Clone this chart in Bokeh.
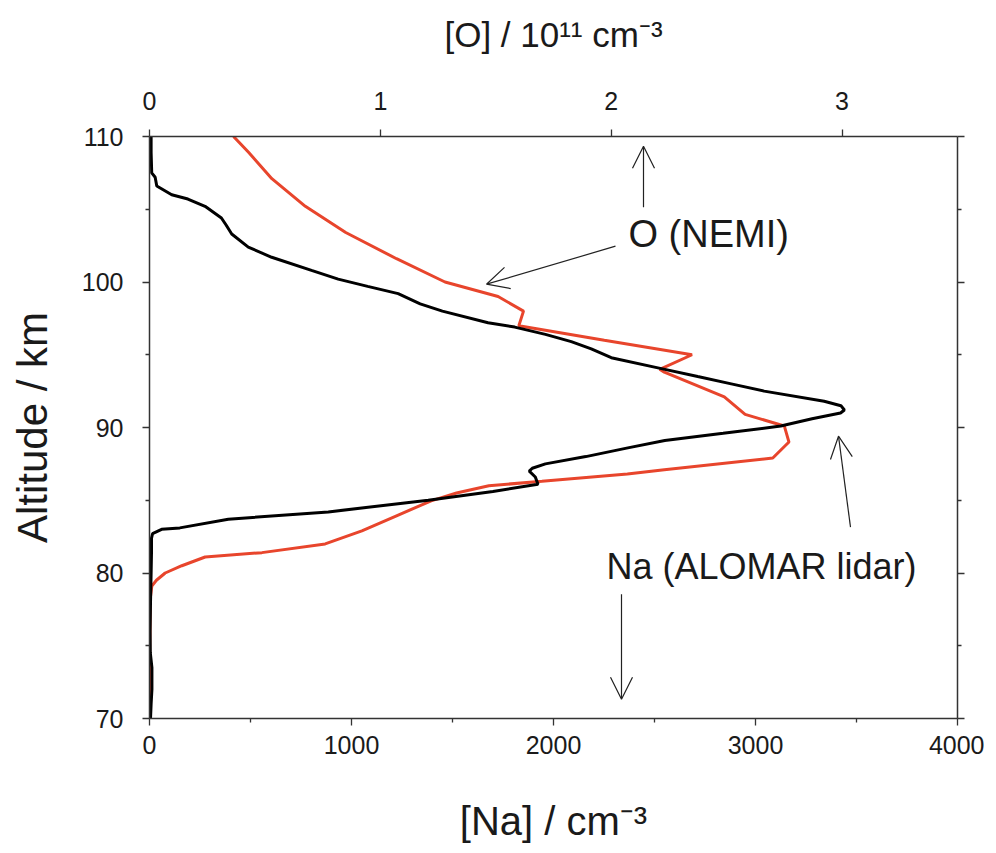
import numpy as np
from bokeh.plotting import figure
from bokeh.models import (Range1d, LinearAxis, FixedTicker, Label, Arrow, OpenHead,
                          CustomJSTickFormatter)
from bokeh.embed import file_html
from bokeh.resources import INLINE

# ---------------- data ----------------
# Na density profile (ALOMAR lidar), cm^-3, vs altitude (km)
na_alt = [70.0, 71.0, 72.0, 73.5, 74.5, 76.0, 78.0, 80.0, 81.5, 82.4, 82.7, 83.0, 83.1,
          83.7, 84.2, 85.0, 85.6, 86.1, 86.6, 87.0, 87.2, 87.5, 88.0, 88.6, 89.1, 89.6,
          90.1, 90.6, 91.0, 91.2, 91.5, 91.8, 92.5, 93.0, 93.5, 94.1, 94.8, 95.4, 95.9,
          96.4, 96.9, 97.2, 98.0, 98.5, 99.2, 99.7, 100.2, 100.8, 101.7, 102.4, 103.3,
          103.9, 104.4, 105.2, 105.7, 106.0, 106.6, 107.2, 107.5, 108.9, 110.0]
na_val = [5, 8, 12, 12, 4, 3, 5, 8, 10, 10, 15, 60, 150,
          390, 885, 1380, 1700, 1923, 1910, 1880, 1895, 1960, 2160, 2368, 2551, 2840,
          3125, 3280, 3421, 3440, 3423, 3340, 3043, 2880, 2714, 2517, 2286, 2187, 2088,
          1960, 1808, 1676, 1450, 1340, 1231, 1080, 934, 802, 605, 489, 407,
          380, 356, 275, 190, 110, 36, 28, 11, 8, 8]

# O density profile (NEMI), 10^11 cm^-3, vs altitude (km)
o_alt = [70.0, 72.0, 74.0, 76.0, 78.2, 79.1, 79.5, 80.0, 80.5, 81.1, 81.4, 82.0, 82.9,
         83.9, 84.96, 85.5, 86.0, 86.3, 86.8, 87.1, 87.9, 89.0, 90.1, 90.9, 92.1, 93.8,
         94.0, 95.0, 96.0, 97.0, 98.0, 99.0, 100.0, 101.6, 103.4, 105.2, 107.1, 108.9, 110.0]
o_val = [0.0, 0.0, 0.0, 0.002, 0.003, 0.01, 0.03, 0.068, 0.14, 0.241, 0.487, 0.761, 0.92,
         1.065, 1.22, 1.33, 1.47, 1.70, 2.07, 2.23, 2.70, 2.77, 2.75, 2.58, 2.49, 2.23,
         2.21, 2.35, 1.97, 1.60, 1.62, 1.51, 1.28, 1.07, 0.85, 0.675, 0.53, 0.43, 0.364]

alt_ticks = [70, 80, 90, 100, 110]
alt_minor = [75, 85, 95, 105]
na_ticks = [0, 1000, 2000, 3000, 4000]
na_minor = [500, 1500, 2500, 3500]
o_ticks = [0, 1, 2, 3]

# ---------------- figure ----------------
FONT = "Liberation Sans"
AX = "#333333"
TXT = "#1a1a1a"
RED = "#E8452C"

p = figure(frame_width=808, frame_height=582,
           min_border_left=149, min_border_right=27, min_border_top=136, min_border_bottom=132,
           x_range=Range1d(0, 4000), y_range=Range1d(70, 110),
           x_axis_location=None, y_axis_location=None,
           output_backend="svg", toolbar_location=None)
p.extra_x_ranges = {"o": Range1d(0, 3.5)}
p.grid.visible = False
p.outline_line_color = None
p.background_fill_color = "white"
p.border_fill_color = "white"


def style(ax, size="25px"):
    ax.axis_line_color = AX
    ax.axis_line_width = 1.5
    ax.major_tick_line_color = AX
    ax.minor_tick_line_color = AX
    ax.major_tick_line_width = 1.3
    ax.minor_tick_line_width = 1.3
    ax.major_tick_in = 0
    ax.minor_tick_in = 0
    ax.major_tick_out = 7
    ax.minor_tick_out = 4
    ax.major_label_text_font = FONT
    ax.major_label_text_font_size = size
    ax.major_label_text_color = TXT
    ax.axis_label_text_font = FONT
    ax.axis_label_text_font_style = "normal"
    ax.axis_label_text_color = TXT


left = LinearAxis(ticker=FixedTicker(ticks=alt_ticks, minor_ticks=alt_minor),
                  axis_label="Altitude / km")
style(left)
left.major_label_standoff = 19
left.axis_label_text_font_size = "42px"
left.axis_label_standoff = 23
p.add_layout(left, "left")

right = LinearAxis(ticker=FixedTicker(ticks=alt_ticks, minor_ticks=alt_minor),
                   formatter=CustomJSTickFormatter(code="return ''"))
style(right)
right.major_label_standoff = 0
p.add_layout(right, "right")

bottom = LinearAxis(ticker=FixedTicker(ticks=na_ticks, minor_ticks=na_minor),
                    axis_label="[Na] / cm\u207b\u00b3")
style(bottom)
bottom.major_label_standoff = 10
bottom.axis_label_text_font_size = "40px"
bottom.axis_label_standoff = 42
p.add_layout(bottom, "below")

top = LinearAxis(x_range_name="o", ticker=FixedTicker(ticks=o_ticks, minor_ticks=[]),
                 axis_label="[O] / 10\u00b9\u00b9 cm\u207b\u00b3")
style(top)
top.major_label_standoff = 20
top.axis_label_text_font_size = "35px"
top.axis_label_standoff = 35
p.add_layout(top, "above")

# ---------------- curves ----------------
p.line(o_val, o_alt, x_range_name="o", line_color=RED, line_width=3)
p.line(na_val, na_alt, line_color="black", line_width=3)


# ---------------- annotations (page pixel -> data) ----------------
def dx(px):
    return (px - 151) * 4000 / 808


def dy(py):
    return 110 - (py - 137.3) * 40 / 582


def txt(s, px, py, size):
    p.add_layout(Label(x=dx(px), y=dy(py), text=s, text_font=FONT,
                       text_font_size=size, text_color=TXT, text_align="left",
                       text_baseline="alphabetic"))


def arrow(x0, y0, x1, y1):
    p.add_layout(Arrow(x_start=dx(x0), y_start=dy(y0), x_end=dx(x1), y_end=dy(y1),
                       line_color="#222222", line_width=1.2,
                       end=OpenHead(size=22, line_color="#222222", line_width=1.2)))


txt("O (NEMI)", 630, 235, "38px")
txt("Na (ALOMAR lidar)", 608, 567, "36px")
arrow(645, 208, 645, 147)
arrow(617, 247, 488, 285)
arrow(852, 528, 840, 437)
arrow(623, 595, 623, 700)

open("out.html", "w").write(file_html(p, INLINE))
